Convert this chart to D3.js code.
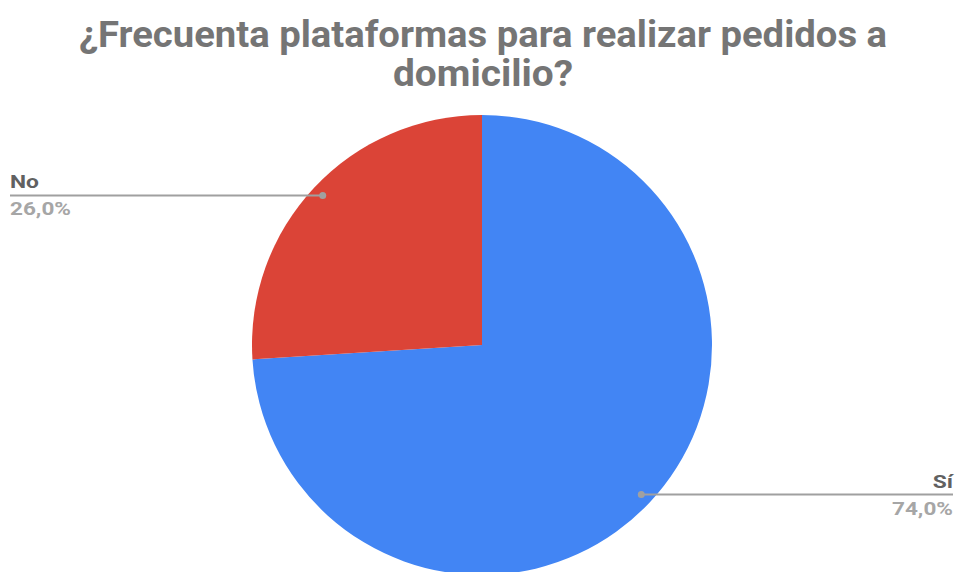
<!DOCTYPE html>
<html>
<head>
<meta charset="utf-8">
<script src="https://cdn.jsdelivr.net/npm/d3@7"></script>
<style>
  html, body { margin: 0; padding: 0; background: #fff; }
  svg { display: block; }
</style>
</head>
<body>
<svg id="chart" width="960" height="572"></svg>
<script>
const categories = ["Sí", "No"];
const values = [74.0, 26.0];
const colors = ["#4285f4", "#db4437"];
const titleLines = ["¿Frecuenta plataformas para realizar pedidos a", "domicilio?"];

const svg = d3.select("#chart");
const W = 960;
const cx = 482, cy = 345, r = 230;

// title: two centred lines in a wide bold face
const titleWidths = [808, 180];
svg.append("g").selectAll("text")
  .data(titleLines)
  .join("text")
  .attr("x", W / 2 + 3)
  .attr("y", (d, i) => 47 + i * 39)
  .attr("text-anchor", "middle")
  .attr("font-family", "Roboto, sans-serif")
  .attr("font-weight", 700)
  .attr("font-size", 36)
  .attr("fill", "#757575")
  .attr("textLength", (d, i) => titleWidths[i])
  .attr("lengthAdjust", "spacingAndGlyphs")
  .text(d => d);

const data = categories.map((c, i) => ({ name: c, value: values[i], color: colors[i] }));

const pie = d3.pie().value(d => d.value).sort(null);
const arcs = pie(data);
const arc = d3.arc().innerRadius(0).outerRadius(r);

const g = svg.append("g").attr("transform", `translate(${cx},${cy})`);
g.selectAll("path")
  .data(arcs)
  .join("path")
  .attr("d", arc)
  .attr("fill", d => d.data.color);

// leader lines with name above and percentage below
const labelArc = d3.arc().innerRadius(r * 0.95).outerRadius(r * 0.95);
const fmt = v => d3.format(".1f")(v).replace(".", ",") + "%";
arcs.forEach(a => {
  const [px, py] = labelArc.centroid(a);
  const x = cx + px, y = cy + py;
  const right = px > 0;
  const endX = right ? 953 : 10;
  const anchor = right ? "end" : "start";
  svg.append("line")
    .attr("x1", x).attr("y1", y)
    .attr("x2", endX).attr("y2", y)
    .attr("stroke", "#a0a0a0")
    .attr("stroke-width", 2);
  svg.append("circle")
    .attr("cx", x).attr("cy", y).attr("r", 3.5)
    .attr("fill", "#a0a0a0");
  const name = svg.append("text")
    .attr("x", endX).attr("y", y - 7)
    .attr("text-anchor", anchor)
    .attr("font-family", "Roboto, sans-serif")
    .attr("font-weight", 700)
    .attr("font-size", 19)
    .attr("fill", "#616161")
    .text(a.data.name);
  name.attr("textLength", name.node().getComputedTextLength() * 1.2)
    .attr("lengthAdjust", "spacingAndGlyphs");
  const pct = svg.append("text")
    .attr("x", endX).attr("y", y + 20)
    .attr("text-anchor", anchor)
    .attr("font-family", "Roboto, sans-serif")
    .attr("font-weight", 700)
    .attr("font-size", 19)
    .attr("fill", "#a6a6a6")
    .text(fmt(a.data.value));
  pct.attr("textLength", 61)
    .attr("lengthAdjust", "spacingAndGlyphs");
});
</script>
</body>
</html>
